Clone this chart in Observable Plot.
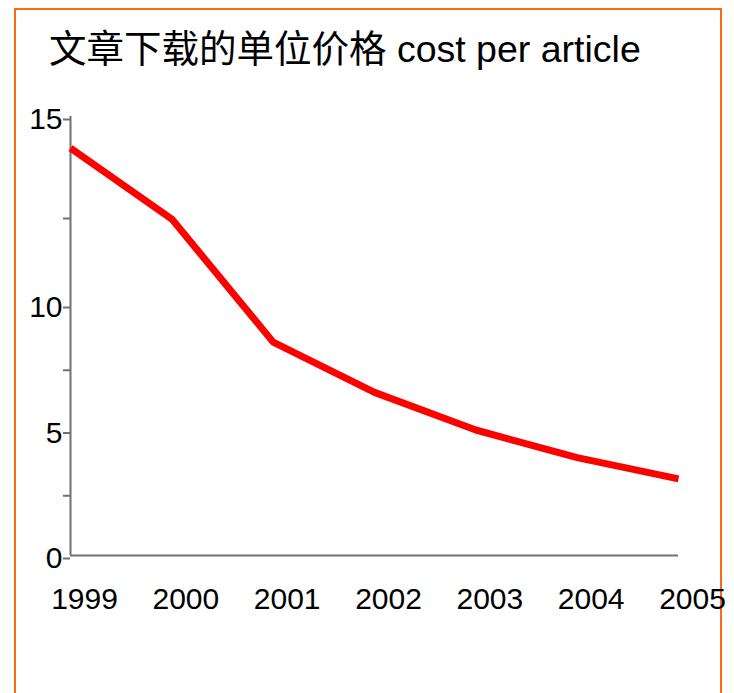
<!DOCTYPE html>
<html>
<head>
<meta charset="utf-8">
<script src="https://cdn.jsdelivr.net/npm/d3@7"></script>
<script src="https://cdn.jsdelivr.net/npm/@observablehq/plot@0.6"></script>
<style>
  html, body { margin: 0; padding: 0; background: #fff; }
  #wrap { position: relative; width: 734px; height: 693px; overflow: hidden; }
  #frame { position: absolute; left: 14px; top: 8px; width: 708px; height: 720px; border: 2px solid #FF6A10; box-sizing: border-box; }
  #title { position: absolute; left: 49px; top: 29px; font-size: 37.5px; line-height: 40px; white-space: nowrap;
           font-family: "Liberation Sans", Arial, "Noto Sans CJK SC", sans-serif; color: #000; }
  #chart { position: absolute; left: 0; top: 0; }
</style>
</head>
<body>
<div id="wrap">
  <div id="frame"></div>
  <div id="title">文章下载的单位价格 cost per article</div>
  <div id="chart"></div>
</div>
<script>
const years = [1999, 2000, 2001, 2002, 2003, 2004, 2005];
const costs = [14.2, 12.4, 8.5, 6.5, 5.0, 3.9, 3.05];
const yTicks = [0, 2.5, 5, 7.5, 10, 12.5, 15];
const yLabeled = [0, 5, 10, 15];

const data = years.map((year, i) => ({year, cost: costs[i]}));

// the reference's value axis is stretched above 10 (uneven tick spacing)
const warp = d3.scaleLinear().domain([0, 10, 12.5, 15]).range([0, 10, 13.546, 17.49]);
const unwarp = u => Math.round(warp.invert(u) * 10) / 10;

const chart = Plot.plot({
  width: 734,
  height: 693,
  marginLeft: 70,
  marginRight: 56,
  marginTop: 116,
  marginBottom: 138,
  style: {fontFamily: "'Liberation Sans', Arial, sans-serif", fontSize: "30px", color: "#000", background: "transparent"},
  x: {domain: [1999, 2005]},
  y: {type: "linear", transform: warp, nice: false},
  marks: [
    Plot.axisY({
      ticks: yTicks.map(warp),
      tickSize: 7,
      tickPadding: 1,
      tickFormat: u => yLabeled.includes(unwarp(u)) ? String(unwarp(u)) : "",
      stroke: "#707070",
      strokeWidth: 2,
      fill: "#000",
      dy: 3,
      label: null
    }),
    Plot.axisX({
      ticks: years,
      tickSize: 0,
      tickPadding: 32,
      tickFormat: d => String(d),
      fill: "#000",
      dx: 14,
      label: null
    }),
    Plot.ruleX([1999], {y1: 0, y2: 15, stroke: "#707070", strokeWidth: 2}),
    Plot.ruleY([0], {x1: 1999, x2: 2005, stroke: "#707070", strokeWidth: 2}),
    Plot.line(data, {x: "year", y: "cost", stroke: "#FF0000", strokeWidth: 7, strokeLinejoin: "miter", strokeLinecap: "butt"})
  ]
});
document.getElementById("chart").appendChild(chart);
</script>
</body>
</html>
